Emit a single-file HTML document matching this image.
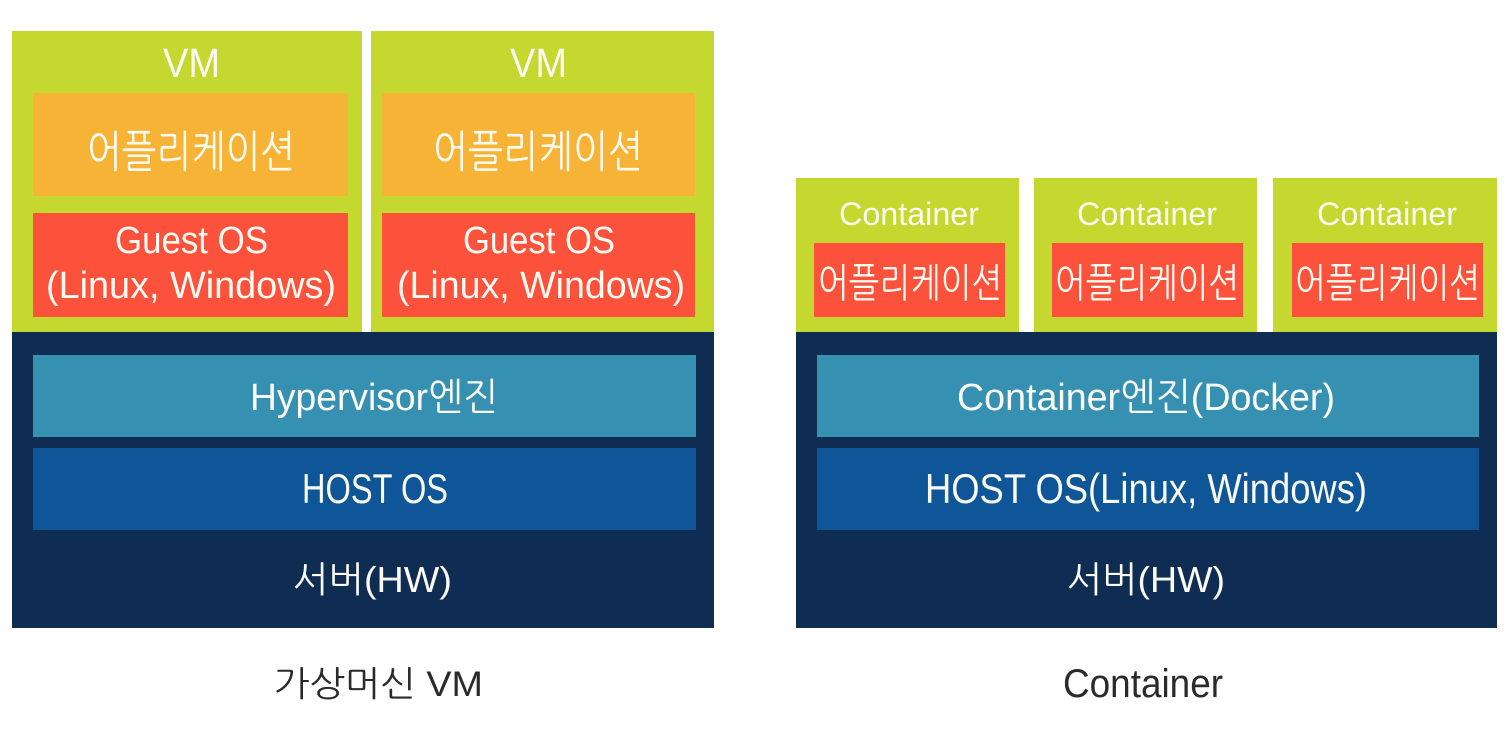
<!DOCTYPE html>
<html>
<head>
<meta charset="utf-8">
<style>
  html,body{margin:0;padding:0;background:#ffffff;}
  body{width:1509px;height:729px;overflow:hidden;}
  svg{display:block;}
  text{font-family:"Liberation Sans","NanumGothic","Noto Sans CJK KR",sans-serif;}
  .w{fill:#fbfbf4;}
  .d{fill:#2a2a2a;}
</style>
</head>
<body>
<svg width="1509" height="729" viewBox="0 0 1509 729" xmlns="http://www.w3.org/2000/svg">
  <rect x="0" y="0" width="1509" height="729" fill="#ffffff"/>

  <!-- ===== Left: VM ===== -->
  <rect x="12" y="31" width="350" height="301" fill="#c4d82f"/>
  <rect x="371" y="31" width="343" height="301" fill="#c4d82f"/>

  <rect x="33" y="93" width="315" height="103" fill="#f7b335"/>
  <rect x="382" y="93" width="313" height="103" fill="#f7b335"/>

  <rect x="33" y="213" width="315" height="104" fill="#fc513a"/>
  <rect x="382" y="213" width="313" height="104" fill="#fc513a"/>

  <rect x="12" y="332" width="702" height="296" fill="#0f2c53"/>
  <rect x="33" y="355" width="663" height="82" fill="#3590b2"/>
  <rect x="33" y="448" width="663" height="82" fill="#0e5698"/>

  <text class="w" x="163" y="77" font-size="41" textLength="57" lengthAdjust="spacingAndGlyphs">VM</text>
  <text class="w" x="510" y="77" font-size="41" textLength="57" lengthAdjust="spacingAndGlyphs">VM</text>

  <text class="w" x="87" y="167" font-size="44" textLength="208" lengthAdjust="spacingAndGlyphs">어플리케이션</text>
  <text class="w" x="433" y="167" font-size="44" textLength="210" lengthAdjust="spacingAndGlyphs">어플리케이션</text>

  <text class="w" x="115" y="253" font-size="38" textLength="153" lengthAdjust="spacingAndGlyphs">Guest OS</text>
  <text class="w" x="463" y="253" font-size="38" textLength="152" lengthAdjust="spacingAndGlyphs">Guest OS</text>

  <text class="w" x="46" y="298" font-size="38" textLength="290" lengthAdjust="spacingAndGlyphs">(Linux, Windows)</text>
  <text class="w" x="397" y="298" font-size="38" textLength="288" lengthAdjust="spacingAndGlyphs">(Linux, Windows)</text>

  <text class="w" x="250" y="410" font-size="38" textLength="248" lengthAdjust="spacingAndGlyphs">Hypervisor엔진</text>
  <text class="w" x="302" y="503" font-size="42" textLength="146" lengthAdjust="spacingAndGlyphs">HOST OS</text>
  <text class="w" x="293" y="592" font-size="36" textLength="159" lengthAdjust="spacingAndGlyphs">서버(HW)</text>

  <text class="d" x="274" y="696" font-size="35" textLength="209" lengthAdjust="spacingAndGlyphs">가상머신 VM</text>

  <!-- ===== Right: Container ===== -->
  <rect x="796" y="178" width="223" height="154" fill="#c4d82f"/>
  <rect x="1034" y="178" width="223" height="154" fill="#c4d82f"/>
  <rect x="1273" y="178" width="224" height="154" fill="#c4d82f"/>

  <rect x="814" y="243" width="191" height="74" fill="#fc513a"/>
  <rect x="1052" y="243" width="191" height="74" fill="#fc513a"/>
  <rect x="1292" y="243" width="191" height="74" fill="#fc513a"/>

  <rect x="796" y="332" width="701" height="296" fill="#0f2c53"/>
  <rect x="817" y="355" width="662" height="82" fill="#3590b2"/>
  <rect x="817" y="448" width="662" height="82" fill="#0e5698"/>

  <text class="w" x="839" y="225" font-size="32" textLength="140" lengthAdjust="spacingAndGlyphs">Container</text>
  <text class="w" x="1077" y="225" font-size="32" textLength="140" lengthAdjust="spacingAndGlyphs">Container</text>
  <text class="w" x="1317" y="225" font-size="32" textLength="140" lengthAdjust="spacingAndGlyphs">Container</text>

  <text class="w" x="818" y="297" font-size="40" textLength="184" lengthAdjust="spacingAndGlyphs">어플리케이션</text>
  <text class="w" x="1055" y="297" font-size="40" textLength="184" lengthAdjust="spacingAndGlyphs">어플리케이션</text>
  <text class="w" x="1295" y="297" font-size="40" textLength="185" lengthAdjust="spacingAndGlyphs">어플리케이션</text>

  <text class="w" x="957" y="410" font-size="38" textLength="378" lengthAdjust="spacingAndGlyphs">Container엔진(Docker)</text>
  <text class="w" x="925" y="503" font-size="42" textLength="442" lengthAdjust="spacingAndGlyphs">HOST OS(Linux, Windows)</text>
  <text class="w" x="1067" y="592" font-size="36" textLength="158" lengthAdjust="spacingAndGlyphs">서버(HW)</text>

  <text class="d" x="1063" y="697" font-size="40" textLength="160" lengthAdjust="spacingAndGlyphs">Container</text>
</svg>
</body>
</html>
